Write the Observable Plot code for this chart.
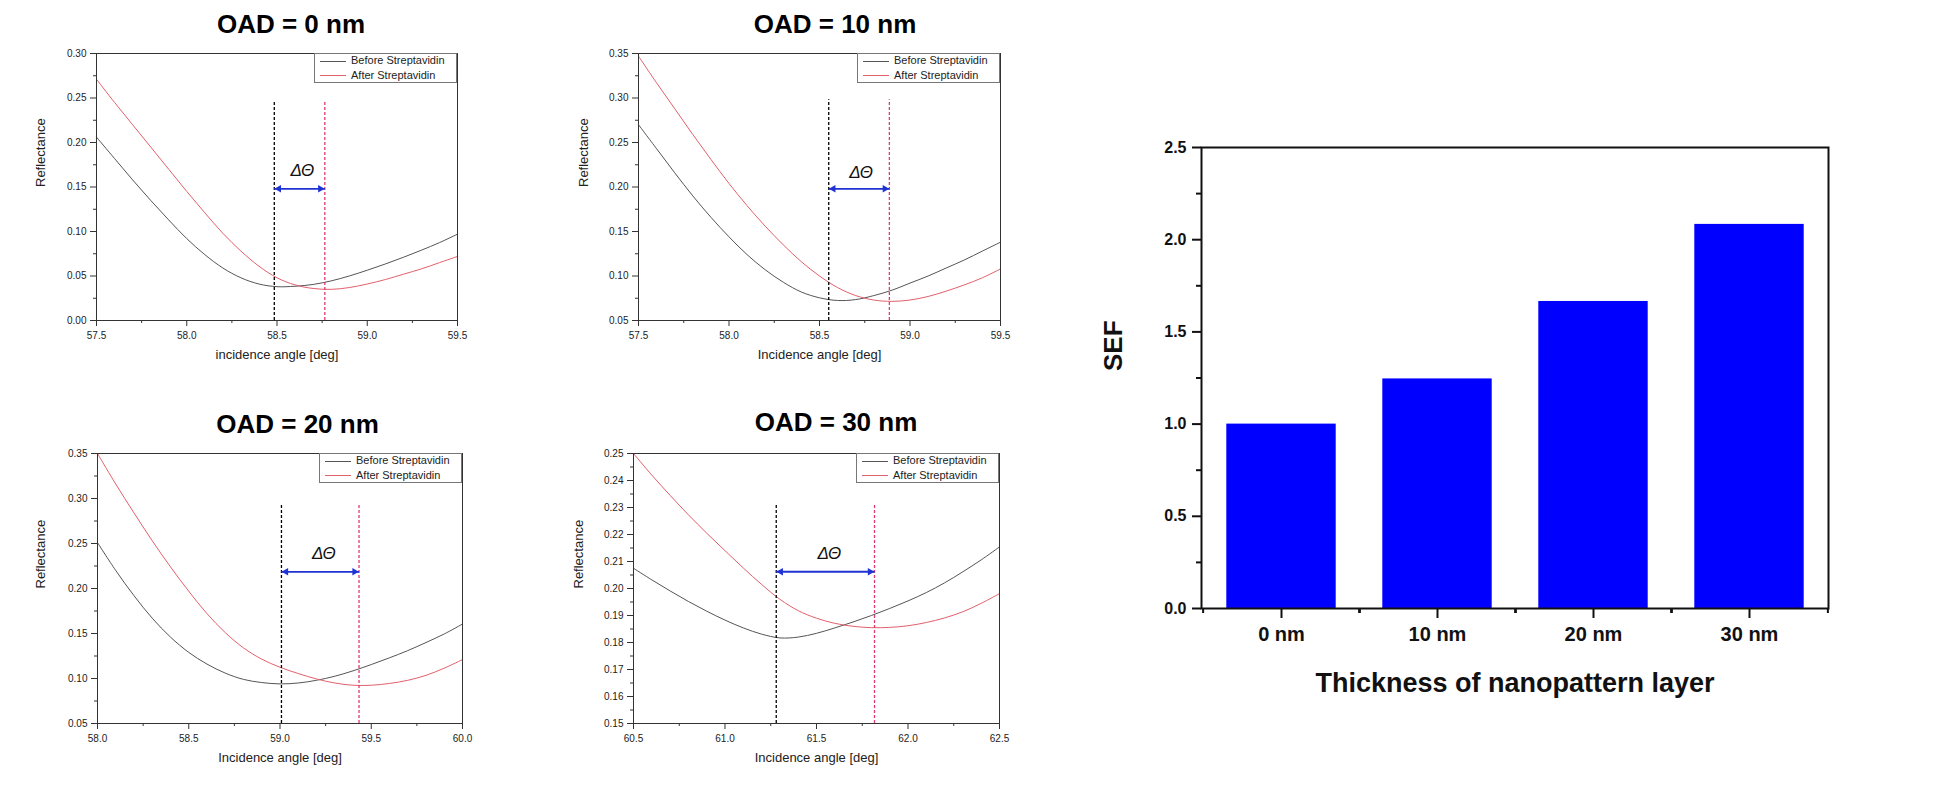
<!DOCTYPE html>
<html><head><meta charset="utf-8">
<script src="https://cdn.jsdelivr.net/npm/d3@7"></script>
<script src="https://cdn.jsdelivr.net/npm/@observablehq/plot@0.6"></script>
<style>
body{margin:0;background:#fff;}
#root{position:relative;width:1955px;height:787px;overflow:hidden;font-family:"Liberation Sans",Arial,sans-serif;background:#fff;}
.panel{position:absolute;}
.title{position:absolute;font-weight:bold;font-size:26px;line-height:26px;white-space:nowrap;transform:translateX(-50%);color:#000;}
.legend{position:absolute;box-sizing:border-box;width:143px;height:30px;border:1px solid #777;background:#fff;font-size:11px;color:#222;}
.legend .sw{position:absolute;left:5px;width:26px;height:0;}
.legend .lt{position:absolute;left:36px;line-height:11px;white-space:nowrap;}
</style></head>
<body><div id="root"></div>
<script>
// ---------- data ----------
const panelTitles = ["OAD = 0 nm", "OAD = 10 nm", "OAD = 20 nm", "OAD = 30 nm"];
const xLabels = ["incidence angle [deg]", "Incidence angle [deg]", "Incidence angle [deg]", "Incidence angle [deg]"];
const legendLabels = ["Before Streptavidin", "After Streptavidin"];

const p1Angle = [57.5,57.6,57.7,57.8,57.9,58.0,58.1,58.2,58.3,58.4,58.5,58.6,58.7,58.8,58.9,59.0,59.1,59.2,59.3,59.4,59.5];
const p1Before = [0.206,0.182,0.158,0.135,0.113,0.092,0.074,0.059,0.048,0.041,0.038,0.0385,0.0405,0.0445,0.050,0.0565,0.0635,0.071,0.079,0.0875,0.097];
const p1After  = [0.271,0.245,0.220,0.195,0.170,0.145,0.121,0.098,0.078,0.061,0.048,0.040,0.036,0.035,0.037,0.041,0.046,0.052,0.058,0.065,0.072];

const p2Angle = [57.5,57.6,57.7,57.8,57.9,58.0,58.1,58.2,58.3,58.4,58.5,58.6,58.7,58.8,58.9,59.0,59.1,59.2,59.3,59.4,59.5];
const p2Before = [0.270,0.243,0.216,0.190,0.166,0.144,0.124,0.107,0.093,0.082,0.0755,0.0725,0.0735,0.078,0.084,0.092,0.100,0.109,0.118,0.128,0.138];
const p2After  = [0.347,0.317,0.288,0.259,0.231,0.204,0.179,0.156,0.135,0.116,0.100,0.087,0.078,0.073,0.0715,0.073,0.077,0.083,0.090,0.098,0.108];

const p3Angle = [58.0,58.1,58.2,58.3,58.4,58.5,58.6,58.7,58.8,58.9,59.0,59.1,59.2,59.3,59.4,59.5,59.6,59.7,59.8,59.9,60.0];
const p3Before = [0.251,0.220,0.192,0.167,0.146,0.129,0.116,0.106,0.099,0.0955,0.094,0.095,0.098,0.1025,0.1085,0.1155,0.123,0.131,0.140,0.1495,0.1605];
const p3After  = [0.350,0.316,0.284,0.253,0.224,0.197,0.172,0.151,0.134,0.1215,0.1125,0.1055,0.0995,0.095,0.0925,0.0925,0.0945,0.098,0.1035,0.1115,0.121];

const p4Angle = [60.5,60.6,60.7,60.8,60.9,61.0,61.1,61.2,61.3,61.4,61.5,61.6,61.7,61.8,61.9,62.0,62.1,62.2,62.3,62.4,62.5];
const p4Before = [0.2075,0.2032,0.1991,0.1952,0.1916,0.1883,0.1854,0.1831,0.1817,0.1820,0.1834,0.1854,0.1876,0.1900,0.1926,0.1954,0.1985,0.2021,0.2062,0.2106,0.2154];
const p4After  = [0.2500,0.2420,0.2345,0.2273,0.2205,0.2140,0.2076,0.2015,0.1960,0.1918,0.1890,0.1871,0.1860,0.1855,0.1856,0.1862,0.1874,0.1891,0.1914,0.1945,0.1981];

// resonance dip angles (dashed lines) and annotation positions
const dipBefore = [58.485, 58.551, 59.008, 61.28];
const dipAfter  = [58.765, 58.886, 59.433, 61.817];
const dashTop   = [0.247, 0.298, 0.2926, 0.2309];
const arrowY    = [0.148, 0.198, 0.2185, 0.2062];
const deltaX    = [58.64, 58.73, 59.24, 61.57];
const deltaY    = [0.169, 0.2165, 0.239, 0.213];

const xDomains = [[57.5,59.5],[57.5,59.5],[58,60],[60.5,62.5]];
const yDomains = [[0,0.30],[0.05,0.35],[0.05,0.35],[0.15,0.25]];
const yStep    = [0.05, 0.05, 0.05, 0.01];

// bar chart
const thickness = ["0 nm", "10 nm", "20 nm", "30 nm"];
const sef = [1.0, 1.245, 1.665, 2.083];
const sefTicks = [0, 0.5, 1.0, 1.5, 2.0, 2.5];
const sefMinor = [0.25, 0.75, 1.25, 1.75, 2.25];

// ---------- layout ----------
const root = document.getElementById("root");
const layout = [
  {left:0,   top:0,   width:480, height:375, ml:96, mr:23, mt:53, mb:55, tx:291, tb:33, ylx:40.7},
  {left:540, top:0,   width:480, height:375, ml:98, mr:20, mt:53, mb:55, tx:835, tb:33, ylx:583},
  {left:0,   top:400, width:480, height:387, ml:97, mr:18, mt:53, mb:64, tx:297.5, tb:433, ylx:40.7},
  {left:540, top:400, width:480, height:387, ml:93, mr:21, mt:53, mb:64, tx:836, tb:430.7, ylx:578}
];
const colBefore = "#555555", colAfter = "#e2606b", colDashAfter = "#e23a70", colArrow = "#1f33d4";
const angles = [p1Angle,p2Angle,p3Angle,p4Angle];
const befores = [p1Before,p2Before,p3Before,p4Before];
const afters = [p1After,p2After,p3After,p4After];

function rng(a, b, s) { const out = []; for (let v = a; v <= b + 1e-9; v += s) out.push(+v.toFixed(4)); return out; }

layout.forEach((L, i) => {
  const [x0, x1] = xDomains[i], [y0, y1] = yDomains[i];
  const xMajor = rng(x0, x1, 0.5), xMinor = rng(x0 + 0.25, x1, 0.5);
  const yMajor = rng(y0, y1, yStep[i]), yMinor = rng(y0 + yStep[i] / 2, y1, yStep[i]);
  const before = angles[i].map((a, k) => ({angle: a, R: befores[i][k]}));
  const after = angles[i].map((a, k) => ({angle: a, R: afters[i][k]}));
  const arrow = [{x1: dipBefore[i], x2: dipAfter[i], y: arrowY[i]}];
  const heads = [{x: dipBefore[i], y: arrowY[i], rot: -90, dx: 4.5}, {x: dipAfter[i], y: arrowY[i], rot: 90, dx: -4.5}];
  const svg = Plot.plot({
    width: L.width, height: L.height,
    marginLeft: L.ml, marginRight: L.mr, marginTop: L.mt, marginBottom: L.mb,
    x: {domain: xDomains[i]}, y: {domain: yDomains[i]},
    style: {fontFamily: "Liberation Sans, Arial, sans-serif", color: "#222", background: "transparent", overflow: "visible"},
    marks: [
      Plot.axisX({ticks: xMajor, tickSize: 6, tickPadding: 5, tickFormat: d3.format(".1f"), label: null, fontSize: 10, stroke: "#333"}),
      Plot.axisX({ticks: xMinor, tickSize: 3, text: null, label: null, stroke: "#333"}),
      Plot.axisY({ticks: yMajor, tickSize: 6, tickPadding: 4, tickFormat: d3.format(".2f"), label: null, fontSize: 10, stroke: "#333"}),
      Plot.axisY({ticks: yMinor, tickSize: 3, text: null, label: null, stroke: "#333"}),
      Plot.text([xLabels[i]], {frameAnchor: "bottom", dy: 34, fontSize: 13, lineAnchor: "middle", fill: "#222"}),
      Plot.text(["Reflectance"], {frameAnchor: "left", dx: (L.ylx - L.left) - L.ml, rotate: -90, fontSize: 13, lineAnchor: "middle", fill: "#222"}),
      Plot.line(before, {x: "angle", y: "R", stroke: colBefore, strokeWidth: 1, curve: "catmull-rom"}),
      Plot.line(after, {x: "angle", y: "R", stroke: colAfter, strokeWidth: 1, curve: "catmull-rom"}),
      Plot.ruleX([dipBefore[i]], {y1: y0, y2: dashTop[i], stroke: "#000", strokeWidth: 1.3, strokeDasharray: "3,2"}),
      Plot.ruleX([dipAfter[i]], {y1: y0, y2: dashTop[i], stroke: colDashAfter, strokeWidth: 1.3, strokeDasharray: "3,2"}),
      Plot.link(arrow, {x1: "x1", x2: "x2", y1: "y", y2: "y", stroke: colArrow, strokeWidth: 1.8}),
      Plot.dot(heads, {x: "x", y: "y", symbol: "triangle", r: 2.8, fill: colArrow, stroke: "none", rotate: "rot"}),
      Plot.text(["ΔΘ"], {x: deltaX[i], y: deltaY[i], fontSize: 17, fontStyle: "italic", fill: "#111"}),
      Plot.frame({stroke: "#333", strokeWidth: 1})
    ]
  });
  // shift arrow heads so their tips touch the dashed lines
  svg.querySelectorAll('[aria-label="dot"] path').forEach((p, k) => {
    const t = p.getAttribute("transform") || "";
    p.setAttribute("transform", `translate(${heads[k].dx},0) ` + t);
  });
  svg.classList.add("panel");
  svg.style.left = L.left + "px"; svg.style.top = L.top + "px";
  root.appendChild(svg);

  const t = document.createElement("div");
  t.className = "title"; t.textContent = panelTitles[i];
  t.style.left = L.tx + "px"; t.style.top = (L.tb - 22) + "px";
  root.appendChild(t);

  const lg = document.createElement("div");
  lg.className = "legend";
  const frameRight = L.left + L.width - L.mr, frameTop = L.top + L.mt;
  lg.style.left = (frameRight - 143) + "px"; lg.style.top = frameTop + "px";
  [[colBefore, 7.5], [colAfter, 22]].forEach(([c, cy], k) => {
    const sw = document.createElement("div"); sw.className = "sw";
    sw.style.top = (cy - 1) + "px"; sw.style.borderTop = "1px solid " + c; lg.appendChild(sw);
    const tx = document.createElement("div"); tx.className = "lt";
    tx.style.top = (cy - 6.5) + "px"; tx.textContent = legendLabels[k]; lg.appendChild(tx);
  });
  root.appendChild(lg);
});

// ---------- bar chart ----------
const barData = thickness.map((t, i) => ({t, v: sef[i]}));
const BL = {left: 1060, top: 100, width: 840, height: 640, ml: 141, mr: 72, mt: 47, mb: 132};
const bw = (BL.width - BL.ml - BL.mr) / thickness.length;
const bar = Plot.plot({
  width: BL.width, height: BL.height,
  marginLeft: BL.ml, marginRight: BL.mr, marginTop: BL.mt, marginBottom: BL.mb,
  x: {domain: thickness, padding: 0},
  y: {domain: [0, 2.5]},
  style: {fontFamily: "Liberation Sans, Arial, sans-serif", color: "#111", background: "transparent", overflow: "visible"},
  marks: [
    Plot.barY(barData, {x: "t", y: "v", fill: "#0000ff", insetLeft: 23.3, insetRight: 23.3}),
    Plot.axisX({tickSize: 10, tickPadding: 8, fontSize: 20, fontWeight: "bold", label: null, strokeWidth: 2}),
    Plot.axisX({tickSize: 5, text: null, label: null, dx: -bw / 2, strokeWidth: 2}),
    Plot.axisX({tickSize: 5, text: null, label: null, dx: bw / 2, strokeWidth: 2}),
    Plot.axisY({ticks: sefTicks, tickSize: 9, tickPadding: 6, tickFormat: d3.format(".1f"), fontSize: 16, fontWeight: "bold", label: null, strokeWidth: 2}),
    Plot.axisY({ticks: sefMinor, tickSize: 5, text: null, label: null, strokeWidth: 2}),
    Plot.text(["Thickness of nanopattern layer"], {frameAnchor: "bottom", dy: 75, fontSize: 27, fontWeight: "bold", lineAnchor: "middle", fill: "#111"}),
    Plot.text(["SEF"], {frameAnchor: "left", dx: -88, dy: -7, rotate: -90, fontSize: 26, fontWeight: "bold", lineAnchor: "middle", fill: "#111"}),
    Plot.frame({stroke: "#111", strokeWidth: 2})
  ]
});
bar.classList.add("panel");
bar.style.left = BL.left + "px"; bar.style.top = BL.top + "px";
root.appendChild(bar);
</script>
</body></html>
